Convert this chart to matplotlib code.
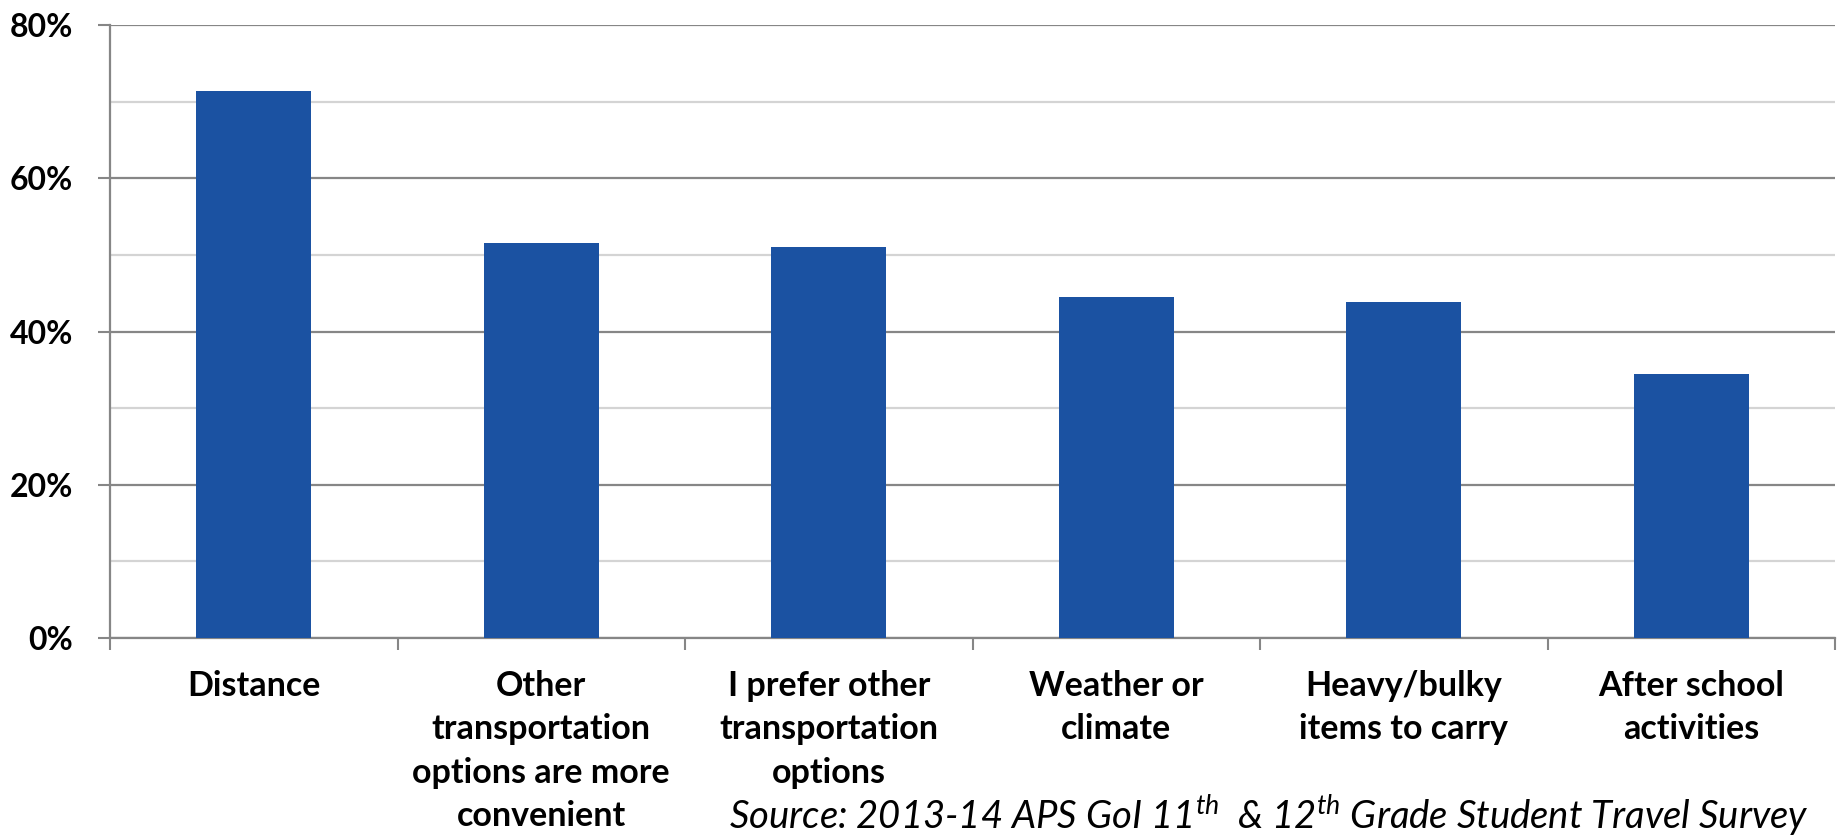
import matplotlib
matplotlib.use("Agg")
import matplotlib.pyplot as plt
from matplotlib.ticker import FixedLocator, MultipleLocator, FuncFormatter

categories = [
    "Distance",
    "Other\ntransportation\noptions are more\nconvenient",
    "I prefer other\ntransportation\noptions",
    "Weather or\nclimate",
    "Heavy/bulky\nitems to carry",
    "After school\nactivities",
]
values = [71.4, 51.5, 51.0, 44.5, 43.9, 34.5]
source_text = "Source: 2013-14 APS GoI 11$^{\\mathit{th}}$  & 12$^{\\mathit{th}}$ Grade Student Travel Survey"

FONT = ["Lato", "DejaVu Sans"]
plt.rcParams["font.family"] = FONT
plt.rcParams["mathtext.fontset"] = "custom"
plt.rcParams["mathtext.it"] = "Lato:italic"
plt.rcParams["mathtext.rm"] = "Lato"

BAR = "#1B52A2"
MAJ = "#868686"
MINOR = "#D4D4D4"

fig = plt.figure(figsize=(18.37, 8.36), dpi=100)
ax = fig.add_axes([110 / 1837, 1 - 638 / 836, (1835 - 110) / 1837, (638 - 25) / 836])

x = list(range(len(categories)))
ax.bar(x, values, width=0.4, color=BAR, zorder=3)

ax.set_xlim(-0.5, len(categories) - 0.5)
ax.set_ylim(0, 80)

ax.yaxis.set_major_locator(MultipleLocator(20))
ax.yaxis.set_minor_locator(MultipleLocator(10))
ax.yaxis.set_major_formatter(FuncFormatter(lambda v, p: f"{int(v)}%"))
ax.grid(which="major", axis="y", color=MAJ, linewidth=1.6, zorder=1)
ax.grid(which="minor", axis="y", color=MINOR, linewidth=1.6, zorder=1)
ax.tick_params(axis="y", which="major", length=8.6, width=1.5, color=MAJ,
               labelsize=23, pad=18)
ax.tick_params(axis="y", which="minor", length=0)
for lab in ax.get_yticklabels():
    lab.set_fontweight("bold")

# x: ticks at category boundaries, labels at centers
ax.xaxis.set_major_locator(FixedLocator([i - 0.5 for i in range(len(categories) + 1)]))
ax.xaxis.set_major_formatter(FuncFormatter(lambda v, p: ""))
ax.xaxis.set_minor_locator(FixedLocator(x))
ax.set_xticklabels(categories, minor=True, fontsize=24.5, fontweight="bold",
                   linespacing=1.44, va="top")
ax.tick_params(axis="x", which="major", length=8.6, width=1.5, color=MAJ)
ax.tick_params(axis="x", which="minor", length=0, pad=23)

for s in ["top", "right"]:
    ax.spines[s].set_visible(False)
for s in ["left", "bottom"]:
    ax.spines[s].set_color(MAJ)
    ax.spines[s].set_linewidth(1.6)

fig.text(729 / 1837, 7 / 836, source_text, fontsize=27.5, style="italic",
         ha="left", va="baseline")

fig.savefig("out.png", dpi=100)
